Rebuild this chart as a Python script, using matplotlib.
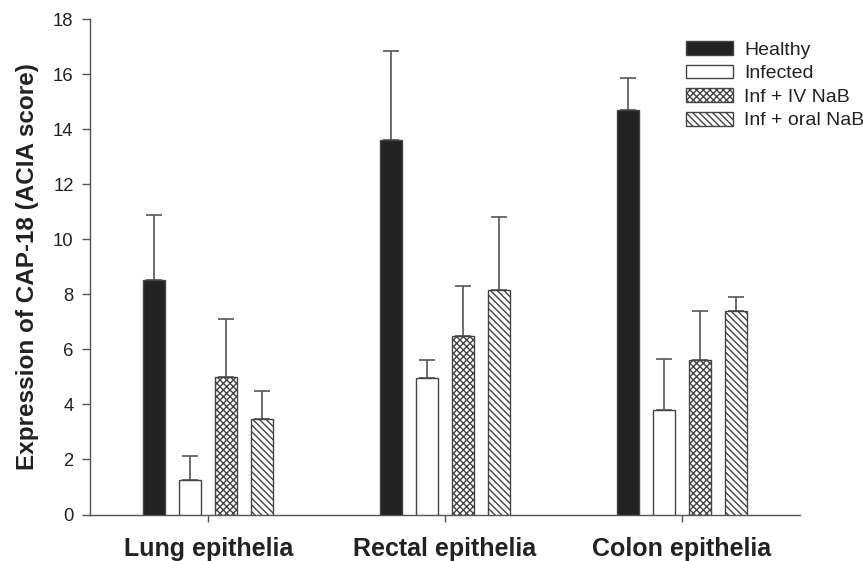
import matplotlib
matplotlib.use("Agg")
import matplotlib.pyplot as plt
import numpy as np

plt.rcParams['font.family'] = ['Liberation Sans', 'DejaVu Sans']
plt.rcParams['hatch.linewidth'] = 1.0

categories = ["Lung epithelia", "Rectal epithelia", "Colon epithelia"]
series = ["Healthy", "Infected", "Inf + IV NaB", "Inf + oral NaB"]
healthy = [8.51, 13.59, 14.70]
infected = [1.24, 4.95, 3.80]
iv_nab = [5.01, 6.50, 5.62]
oral_nab = [3.48, 8.15, 7.39]
healthy_err = [2.37, 3.26, 1.14]
infected_err = [0.87, 0.67, 1.84]
iv_nab_err = [2.09, 1.81, 1.77]
oral_nab_err = [0.99, 2.66, 0.52]
yticks = [0, 2, 4, 6, 8, 10, 12, 14, 16, 18]

values = [healthy, infected, iv_nab, oral_nab]
errors = [healthy_err, infected_err, iv_nab_err, oral_nab_err]
fills = ['#222222', 'white', 'white', 'white']
hatches = [None, None, 'xxxxx', '\\\\\\\\\\']
edge = '#444444'

fig = plt.figure(figsize=(8.63, 5.61), dpi=100)
ax = fig.add_axes([90/863, (561-514.5)/561, (800-90)/863, (514.5-19)/561])

x = np.arange(1, len(categories) + 1)
step = 0.152
width = 0.093
handles = []
for i, (vals, errs) in enumerate(zip(values, errors)):
    pos = x + (i - 1.5) * step
    b = ax.bar(pos, vals, width, color=fills[i], edgecolor=edge, linewidth=1.0,
               hatch=hatches[i], label=series[i], zorder=3)
    ax.errorbar(pos, vals, yerr=[np.zeros(len(vals)), errs], fmt='none',
                ecolor='#555555', elinewidth=1.2, capsize=5.8, capthick=1.2, zorder=2)
    handles.append(b)

ax.set_xlim(0.5, 3.5)
ax.set_ylim(0, 18)
ax.set_yticks(yticks)
ax.set_yticklabels([str(t) for t in yticks], fontsize=13.3, color='#222222')
ax.set_xticks(x)
ax.set_xticklabels(categories, fontsize=18, fontweight='bold', color='#222222')
ax.tick_params(axis='y', direction='out', length=5.8, width=1, color='#555555', pad=6)
ax.tick_params(axis='x', direction='out', length=5, width=1, color='#555555', pad=11)
for s in ['top', 'right']:
    ax.spines[s].set_visible(False)
for s in ['left', 'bottom']:
    ax.spines[s].set_color('#555555')
    ax.spines[s].set_linewidth(1.0)

ax.set_ylabel("Expression of CAP-18 (ACIA score)", fontsize=17.5, fontweight='bold',
              color='#222222', labelpad=10)

leg = ax.legend(handles=handles, labels=series, loc='upper left',
                bbox_to_anchor=((686-90)/710, 1 - (41-19)/495.5), frameon=False,
                fontsize=14, handlelength=2.4, handleheight=0.72, handletextpad=0.58,
                labelspacing=0.3, borderaxespad=0, borderpad=0)
for t in leg.get_texts():
    t.set_color('#222222')

fig.savefig("out.png", dpi=100)
